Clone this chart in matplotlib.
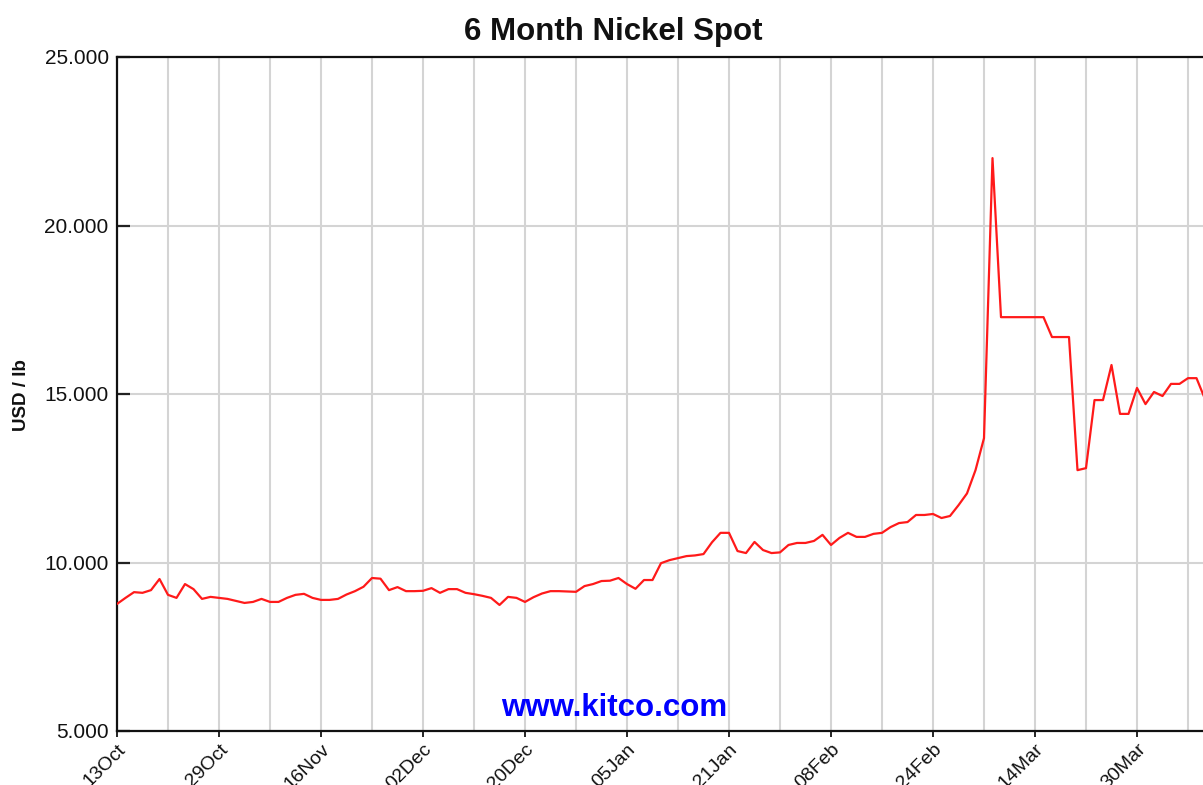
import matplotlib
matplotlib.use("Agg")
import matplotlib.pyplot as plt
from matplotlib.ticker import MultipleLocator, FuncFormatter

title = "6 Month Nickel Spot"
ylabel = "USD / lb"
watermark = "www.kitco.com"

tick_labels = ["13Oct", "29Oct", "16Nov", "02Dec", "20Dec", "05Jan",
               "21Jan", "08Feb", "24Feb", "14Mar", "30Mar"]
days_per_label = 12

prices = [
    8.77, 8.95, 9.12, 9.10, 9.18, 9.51, 9.04, 8.95, 9.36, 9.21,
    8.92, 8.98, 8.95, 8.92, 8.86, 8.80, 8.83, 8.92, 8.83, 8.83,
    8.95, 9.04, 9.07, 8.95, 8.89, 8.89, 8.92, 9.05, 9.15, 9.28,
    9.54, 9.52, 9.18, 9.27, 9.15, 9.15, 9.16, 9.24, 9.10, 9.21,
    9.21, 9.10, 9.06, 9.01, 8.95, 8.74, 8.98, 8.95, 8.83, 8.97,
    9.08, 9.15, 9.15, 9.14, 9.13, 9.30, 9.36, 9.45, 9.46, 9.54,
    9.36, 9.22, 9.48, 9.48, 9.98, 10.07, 10.13, 10.19, 10.21, 10.25,
    10.60, 10.88, 10.88, 10.34, 10.28, 10.61, 10.37, 10.28, 10.30, 10.52,
    10.58, 10.58, 10.64, 10.82, 10.52, 10.73, 10.88, 10.76, 10.76, 10.85,
    10.88, 11.05, 11.17, 11.20, 11.41, 11.41, 11.44, 11.32, 11.38, 11.70,
    12.05, 12.74, 13.69, 22.00, 17.28, 17.28, 17.28, 17.28, 17.28, 17.28,
    16.69, 16.69, 16.69, 12.74, 12.80, 14.82, 14.82, 15.86, 14.41, 14.41,
    15.18, 14.70, 15.06, 14.94, 15.30, 15.30, 15.47, 15.47, 14.85,
]

W, H = 1203, 785
fig = plt.figure(figsize=(W / 100, H / 100), dpi=100)
fig.patch.set_facecolor("white")
ax = fig.add_axes([117 / W, (H - 731) / H, (W - 117) / W, (731 - 57) / H])

x = list(range(len(prices)))
ax.plot(x, prices, color="#ff1a1a", linewidth=1.6, zorder=3, clip_on=True)

ax.set_xlim(0, (W - 117) / 8.5)
ax.set_ylim(5, 25)

font = "Liberation Sans"
ax.set_xticks([i * days_per_label for i in range(len(tick_labels))])
ax.set_xticklabels(tick_labels, rotation=45, ha="right", va="top",
                   rotation_mode="anchor", fontsize=14, family=font)
ax.xaxis.set_minor_locator(MultipleLocator(days_per_label / 2))
ax.yaxis.set_major_locator(MultipleLocator(5))
ax.yaxis.set_major_formatter(FuncFormatter(lambda v, p: f"{v:.3f}"))
for lab in ax.get_yticklabels():
    lab.set_family(font)
    lab.set_fontsize(15)

ax.grid(True, which="both", axis="x", color="#d4d4d4", linewidth=1.5, zorder=0)
ax.grid(True, which="major", axis="y", color="#d4d4d4", linewidth=1.5, zorder=0)

ax.tick_params(axis="y", direction="in", length=9, width=1.6, color="#222222",
               pad=6, labelsize=15, labelcolor="#111111")
ax.tick_params(axis="x", which="major", direction="out", length=4, width=1.2,
               pad=3, labelsize=14, labelcolor="#111111")
ax.tick_params(axis="x", which="minor", length=0)

for side in ["left", "bottom", "top"]:
    ax.spines[side].set_linewidth(1.6)
    ax.spines[side].set_color("#111111")
ax.spines["right"].set_visible(False)

fig.text(613.5 / W, 1 - 32 / H, title, ha="center", va="center",
         fontsize=22.5, fontweight="bold", family=font, color="#111111")
fig.text(22 / W, 1 - 395 / H, ylabel, ha="center", va="center", rotation=90,
         fontsize=13.5, fontweight="bold", family=font, color="#111111")
fig.text(614 / W, 1 - 708 / H, watermark, ha="center", va="center",
         fontsize=22.5, fontweight="bold", family=font, color="#0000ff")

fig.savefig("out.png", dpi=100, facecolor="white")
